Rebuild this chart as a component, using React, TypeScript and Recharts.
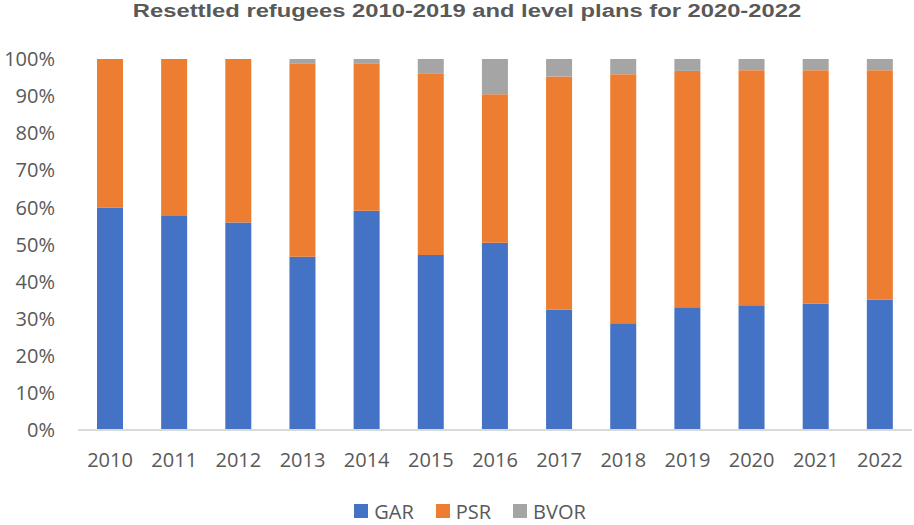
import React from 'react';
import { BarChart, Bar, XAxis, YAxis, Legend } from 'recharts';

// Share of resettled refugees by program (%)
const years = ['2010', '2011', '2012', '2013', '2014', '2015', '2016', '2017', '2018', '2019', '2020', '2021', '2022'];
const gar = [60.0, 57.7, 55.9, 46.7, 59.1, 47.2, 50.5, 32.5, 28.8, 33.1, 33.6, 34.1, 35.2];
const psr = [40.0, 42.3, 44.1, 52.0, 39.6, 48.8, 40.0, 62.8, 67.1, 63.7, 63.4, 62.9, 61.8];
const bvor = [0, 0, 0, 1.3, 1.3, 4.0, 9.5, 4.7, 4.1, 3.2, 3.0, 3.0, 3.0];
const yTicks = [0, 10, 20, 30, 40, 50, 60, 70, 80, 90, 100];

const data = years.map((year, i) => ({ year, GAR: gar[i], PSR: psr[i], BVOR: bvor[i] }));

const COLORS = { GAR: '#4472C4', PSR: '#ED7D31', BVOR: '#A5A5A5' };
const FONT = '"Open Sans", "Liberation Sans", sans-serif';

const LegendContent = () => (
  <div
    style={{
      display: 'flex',
      justifyContent: 'center',
      alignItems: 'center',
      gap: 22,
      paddingLeft: 28,
      height: 28,
      fontFamily: FONT,
      fontSize: 20,
      color: '#595959',
    }}
  >
    {(['GAR', 'PSR', 'BVOR'] as const).map((k) => (
      <div key={k} style={{ display: 'flex', alignItems: 'center' }}>
        <span style={{ width: 14, height: 14, background: COLORS[k], marginRight: 6, display: 'inline-block' }} />
        <span>{k}</span>
      </div>
    ))}
  </div>
);

const App: React.FC = () => {
  return (
    <div style={{ position: 'absolute', left: 0, top: 0, width: 914, height: 525, background: '#fff' }}>
      <div
        style={{
          position: 'absolute',
          top: 1,
          left: 10,
          width: 914,
          textAlign: 'center',
          fontFamily: '"Liberation Sans", Arial, sans-serif',
          fontWeight: 'bold',
          fontSize: 18,
          color: '#595959',
          transform: 'scaleX(1.32)',
          transformOrigin: '457px 0',
        }}
      >
        Resettled refugees 2010-2019 and level plans for 2020-2022
      </div>
      <BarChart
        width={914}
        height={525}
        data={data}
        margin={{ top: 59, right: 2, left: 0, bottom: 17 }}
        barSize={26}
      >
        <XAxis
          dataKey="year"
          axisLine={{ stroke: '#D9D9D9', strokeWidth: 2 }}
          tickLine={false}
          tickMargin={17}
          height={50}
          tick={{ fill: '#595959', fontSize: 20, fontFamily: FONT }}
          interval={0}
        />
        <YAxis
          domain={[0, 100]}
          ticks={yTicks}
          tickFormatter={(v) => `${v}%`}
          axisLine={false}
          tickLine={false}
          tickMargin={17}
          width={78}
          tick={{ fill: '#595959', fontSize: 20, fontFamily: FONT }}
        />
        <Legend verticalAlign="bottom" content={<LegendContent />} wrapperStyle={{ bottom: 0 }} />
        <Bar dataKey="GAR" stackId="a" fill={COLORS.GAR} isAnimationActive={false} />
        <Bar dataKey="PSR" stackId="a" fill={COLORS.PSR} isAnimationActive={false} />
        <Bar dataKey="BVOR" stackId="a" fill={COLORS.BVOR} isAnimationActive={false} />
      </BarChart>
    </div>
  );
};

export default App;
